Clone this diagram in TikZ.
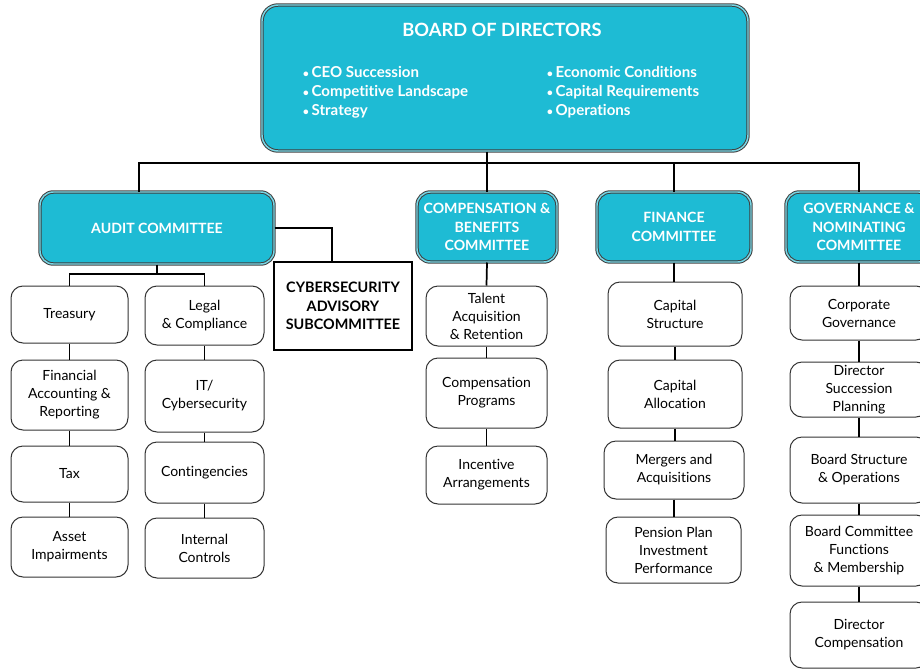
\documentclass[tikz,border=0pt]{standalone}
\usepackage{fontspec}
\setmainfont{Lato}[Ligatures={NoCommon}]

\definecolor{boardcyan}{HTML}{1EBBD4}

\tikzset{every picture/.style={line width=0.75pt}}
\tikzset{
  wh/.style 2 args={minimum width=#1*0.75pt, minimum height=#2*0.75pt},
  board/.style={draw=black!75, double=boardcyan!60!white, double distance=1.1pt,
    fill=boardcyan, rounded corners=12pt, inner sep=0pt},
  committee/.style={board, rounded corners=10pt, align=center, text=white,
    font=\bfseries\fontsize{10.6}{13.9}\selectfont},
  subcomm/.style={draw=black, line width=1.2pt, fill=white, align=center,
    inner sep=0pt, font=\bfseries\fontsize{10.8}{13.9}\selectfont},
  topic/.style={draw=black!80, line width=0.75pt, fill=white, rounded corners=9pt,
    align=center, inner sep=0pt, font=\fontsize{10.5}{13.5}\selectfont},
  link/.style={line width=1.3pt},
}
\newcommand{\bul}{{\footnotesize\textbullet}\,}

\begin{document}
\begin{tikzpicture}[x=0.75pt,y=0.75pt,yscale=-1,xscale=1]
\useasboundingbox (0,0) rectangle (920,671);
\clip (0,0) rectangle (920,671);

%Board of directors
\node [board, wh={486}{146}] (board) at (505,78) {};
\node [text=white, font=\bfseries\fontsize{13.7}{16}\selectfont] (boardtitle) at (502,30) {BOARD OF DIRECTORS};
\node [anchor=west, align=left, text=white, font=\bfseries\fontsize{11.3}{14.25}\selectfont] (topicsL) at (298,92)
  {\bul CEO Succession\\\bul Competitive Landscape\\\bul Strategy};
\node [anchor=west, align=left, text=white, font=\bfseries\fontsize{11.3}{14.25}\selectfont] (topicsR) at (542,92)
  {\bul Economic Conditions\\\bul Capital Requirements\\\bul Operations};

%Committees
\node [committee, wh={234}{72}] (audit) at (157,228) {AUDIT COMMITTEE};
\node [committee, wh={140}{70}] (comp) at (487,227) {COMPENSATION \&\\BENEFITS\\COMMITTEE};
\node [committee, wh={154}{70}] (finance) at (674,227) {FINANCE\\COMMITTEE};
\node [committee, wh={146}{70}] (gov) at (859,227) {GOVERNANCE \&\\NOMINATING\\COMMITTEE};

%Subcommittee
\node [subcomm, wh={138}{88}] (cyber) at (343,306) {CYBERSECURITY\\ADVISORY\\SUBCOMMITTEE};

%Audit topics
\node [topic, wh={117}{57}] (treasury) at (69.5,314.5) {Treasury};
\node [topic, wh={117}{70}] (finacct) at (69.5,395) {Financial\\Accounting \&\\Reporting};
\node [topic, wh={117}{56}] (tax) at (69.5,474) {Tax};
\node [topic, wh={117}{60}] (asset) at (69.5,547) {Asset\\Impairments};
\node [topic, wh={119}{59}] (legal) at (204.5,315.5) {Legal\\\& Compliance};
\node [topic, wh={119}{72}] (itcyber) at (204.5,396) {IT/\\Cybersecurity};
\node [topic, wh={119}{61}] (conting) at (204.5,472.5) {Contingencies};
\node [topic, wh={119}{60}] (internal) at (204.5,548) {Internal\\Controls};

%Compensation topics
\node [topic, wh={121}{60}] (talent) at (486.5,316) {Talent\\Acquisition\\\& Retention};
\node [topic, wh={121}{70}] (comprog) at (486.5,393) {Compensation\\Programs};
\node [topic, wh={121}{58}] (incent) at (486.5,475) {Incentive\\Arrangements};

%Finance topics
\node [topic, wh={134}{64}] (capstruct) at (675,314) {Capital\\Structure};
\node [topic, wh={134}{68}] (capalloc) at (675,394) {Capital\\Allocation};
\node [topic, wh={140}{58}] (mergers) at (674,470) {Mergers and\\Acquisitions};
\node [topic, wh={135}{66}] (pension) at (673.5,550) {Pension Plan\\Investment\\Performance};

%Governance topics
\node [topic, wh={138}{54}] (corpgov) at (859,313) {Corporate\\Governance};
\node [topic, wh={138}{55}] (dirsucc) at (859,389.5) {Director\\Succession\\Planning};
\node [topic, wh={138}{66}] (boardstruct) at (859,470) {Board Structure\\\& Operations};
\node [topic, wh={138}{71}] (boardcomm) at (859,550.5) {Board Committee\\Functions\\\& Membership};
\node [topic, wh={138}{66}] (dircomp) at (859,635) {Director\\Compensation};

%Board to committees
\coordinate (hub) at (487,163);
\draw [link] (board.south -| hub) -- (hub);
\draw [link] (hub) -| ([xshift=-13.5pt]audit.north);
\draw [link] (hub) -| (gov.north);
\draw [link] (comp.north) -- (comp.north |- hub);
\draw [link] (finance.north) -- (finance.north |- hub);
\draw [link] (audit.east) -| ([xshift=-8.25pt]cyber.north);

%Committees to topics
\coordinate (auditfork) at (157,274);
\draw [link] (audit.south) -- (auditfork);
\draw [link] (treasury.north) |- (auditfork) -| (legal.north);
\draw [link] (comp.south) -- (talent.north);
\draw [link] (finance.south) -- (finance.south |- capstruct.north);
\draw [link] (gov.south) -- (corpgov.north);
\foreach \a/\b in {treasury/finacct, finacct/tax, tax/asset,
    legal/itcyber, itcyber/conting, conting/internal,
    talent/comprog, comprog/incent,
    capstruct/capalloc, capalloc/mergers, mergers/pension,
    corpgov/dirsucc, dirsucc/boardstruct, boardstruct/boardcomm, boardcomm/dircomp}
  \draw [link] (\a.south) -- (\a.south |- \b.north);

\end{tikzpicture}
\end{document}
